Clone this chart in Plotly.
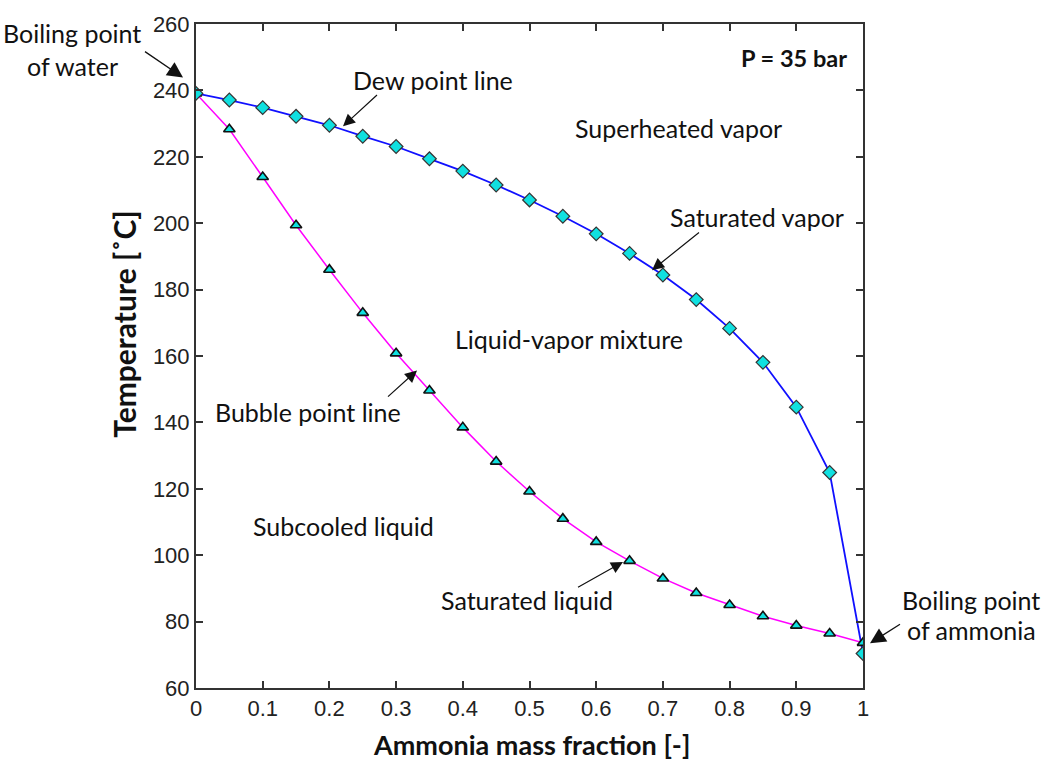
import plotly.graph_objects as go

# ---- data ----
fraction = [0.0, 0.05, 0.1, 0.15, 0.2, 0.25, 0.3, 0.35, 0.4, 0.45, 0.5,
            0.55, 0.6, 0.65, 0.7, 0.75, 0.8, 0.85, 0.9, 0.95, 1.0]
dew_T = [239.1, 237.1, 234.8, 232.2, 229.5, 226.2, 223.1, 219.4, 215.7, 211.5, 207.0,
         202.1, 196.8, 190.9, 184.4, 177.0, 168.3, 158.1, 144.6, 124.9, 70.4]
bubble_T = [239.1, 228.3, 213.9, 199.4, 186.0, 173.0, 160.8, 149.6, 138.5, 128.2, 119.2,
            111.0, 104.0, 98.3, 93.0, 88.6, 85.0, 81.6, 78.8, 76.4, 73.6]
x_ticks = [0, 0.1, 0.2, 0.3, 0.4, 0.5, 0.6, 0.7, 0.8, 0.9, 1]
x_tick_labels = ["0", "0.1", "0.2", "0.3", "0.4", "0.5", "0.6", "0.7", "0.8", "0.9", "1"]
y_ticks = [60, 80, 100, 120, 140, 160, 180, 200, 220, 240, 260]

# ---- layout geometry (pixels) ----
W, H = 1042, 762
L, R, T, B = 196, 863, 19, 688


def px(x, y):
    return (x - L) / (R - L), (B - y) / (B - T)


TXT_FONT = "Lato"
TICK_FONT = "Liberation Sans"

fig = go.Figure()
fig.add_trace(go.Scatter(x=fraction, y=dew_T, mode="lines",
                         line=dict(color="#1010ff", width=1.8), showlegend=False))
fig.add_trace(go.Scatter(x=fraction, y=bubble_T, mode="lines",
                         line=dict(color="#ff00ff", width=1.5), showlegend=False))
fig.add_trace(go.Scatter(x=fraction, y=bubble_T, mode="markers",
                         marker=dict(symbol="triangle-up", size=10, color="#10e0e0",
                                     line=dict(color="#111111", width=1.6)),
                         showlegend=False))
fig.add_trace(go.Scatter(x=fraction, y=dew_T, mode="markers",
                         marker=dict(symbol="diamond", size=10.5, color="#10e0e0",
                                     line=dict(color="#333333", width=1.2)),
                         showlegend=False))

annotations = []


def text(x, y, s, size=25, bold=False, xanchor="center"):
    xp, yp = px(x, y)
    annotations.append(dict(x=xp, y=yp, xref="paper", yref="paper", text=s,
                            showarrow=False, xanchor=xanchor, yanchor="middle",
                            font=dict(family=TXT_FONT, size=size, color="#111111",
                                      weight="bold" if bold else "normal")))


def arrow(x0, y0, x1, y1, size=2.0, width=1.2):
    xp, yp = px(x1, y1)
    annotations.append(dict(x=xp, y=yp, xref="paper", yref="paper", text=" ",
                            showarrow=True, ax=x0 - x1, ay=y0 - y1,
                            arrowhead=2, arrowsize=size, arrowwidth=width,
                            arrowcolor="#111111", standoff=0))


text(72, 28, "Boiling point")
text(72, 61, "of water")
arrow(142, 45, 183, 73, 2.4, 1.3)

text(433, 75, "Dew point line")
arrow(380, 88, 343, 122)

text(678, 124, "Superheated vapor")
text(757, 213, "Saturated vapor")
arrow(702, 227, 652, 267)

text(569, 336, "Liquid-vapor mixture")
text(308, 410, "Bubble point line")
arrow(385, 397, 417, 368)

text(343, 525, "Subcooled liquid")
text(527, 599, "Saturated liquid")
arrow(575, 588, 623, 561)

text(971, 599, "Boiling point")
text(971, 630, "of ammonia")
arrow(903, 622, 870, 643, 2.4, 1.3)

text(849, 53, "P = 35 bar", 23.5, bold=True, xanchor="right")

# axis titles
text(531, 745, "Ammonia mass fraction [-]", 27, bold=True)
xp, yp = px(124, 322)
annotations.append(dict(x=xp, y=yp, xref="paper", yref="paper",
                        text="Temperature [˚C]", showarrow=False, textangle=-90,
                        xanchor="center", yanchor="middle",
                        font=dict(family=TXT_FONT, size=30, color="#111111", weight="bold")))

axis_common = dict(showline=True, linecolor="#333333", linewidth=2, mirror="ticks",
                   ticks="inside", ticklen=7, tickwidth=1.5, tickcolor="#333333",
                   showgrid=False, zeroline=False,
                   tickfont=dict(family=TICK_FONT, size=22, color="#222222"))

fig.update_layout(
    width=W, height=H,
    margin=dict(l=L, r=W - R, t=T, b=H - B, pad=0),
    paper_bgcolor="white", plot_bgcolor="white",
    xaxis=dict(range=[0, 1], tickvals=x_ticks, ticktext=x_tick_labels, **axis_common),
    yaxis=dict(range=[60, 260], tickvals=y_ticks, **axis_common),
    annotations=annotations,
    showlegend=False,
)

fig.write_html("out.html")
